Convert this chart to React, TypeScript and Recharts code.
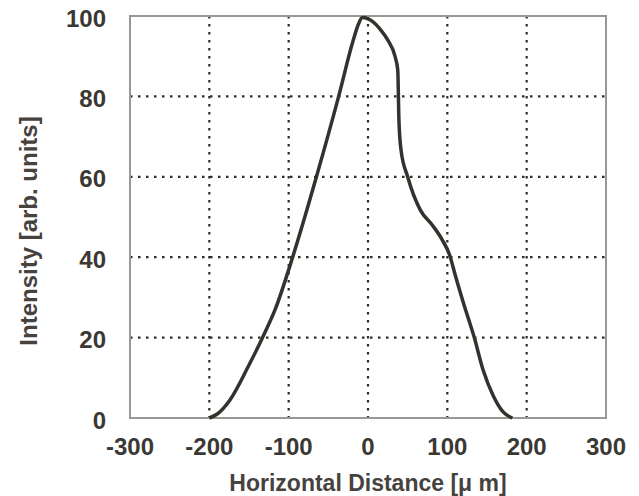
import { CartesianGrid, Label, Line, LineChart, ReferenceArea, XAxis, YAxis } from "recharts";

const distance = [
  -200, -190, -174, -151, -132, -117, -95, -65, -37, -19, -12, -7, 0, 6, 15, 25, 34, 37.5,
  39, 41.6, 50, 66, 81, 93, 103, 110, 120, 134, 145, 158, 170, 182
];
const intensity = [
  0, 1, 4.5, 12.8, 20.4, 27, 40, 60, 80, 93.7, 98, 99.6, 99.3, 98.6, 96.8, 94, 90, 86.6,
  74, 66.7, 60, 51.7, 48, 44.5, 40.5, 35.5, 28.8, 20, 12, 5.5, 1.6, 0
];
const xTicks = [-300, -200, -100, 0, 100, 200, 300];
const yTicks = [0, 20, 40, 60, 80, 100];
const xGrid = [-200, -100, 0, 100, 200];
const yGrid = [20, 40, 60, 80];

const data = distance.map((x, i) => ({ x, y: intensity[i] }));

const FONT = "'Liberation Sans', Arial, sans-serif";
const TICK = { fill: "#3b3833", fontSize: 24, fontWeight: "bold", fontFamily: FONT };

const YTitle = () => (
  <text
    x={28}
    y={231}
    transform="rotate(-90 28 231)"
    textAnchor="middle"
    dominantBaseline="central"
    fill="#46433f"
    fontSize={24}
    fontWeight="bold"
    fontFamily={FONT}
  >
    Intensity [arb. units]
  </text>
);

export default function App() {
  return (
    <div style={{ position: "absolute", left: 0, top: 0, background: "#fff" }}>
      <LineChart width={639} height={496} data={data} margin={{ top: 16, right: 33, left: 0, bottom: 0 }}>
        <CartesianGrid
          horizontalValues={yGrid}
          verticalValues={xGrid}
          stroke="#2f2c28"
          strokeWidth={2.2}
          strokeDasharray="2.5 5.5"
        />
        <XAxis
          dataKey="x"
          type="number"
          domain={[-300, 300]}
          ticks={xTicks}
          height={78}
          axisLine={false}
          tickLine={false}
          tickSize={0}
          tickMargin={20}
          tick={TICK}
        >
          <Label
            value="Horizontal Distance [μ m]"
            position="insideBottom"
            offset={5}
            fill="#46433f"
            fontSize={23}
            fontWeight="bold"
            fontFamily={FONT}
          />
        </XAxis>
        <YAxis
          type="number"
          domain={[0, 100]}
          ticks={yTicks}
          width={130}
          axisLine={false}
          tickLine={false}
          tickSize={0}
          tickMargin={24}
          tick={{ ...TICK, dy: 2 }}
        >
          <Label content={YTitle} />
        </YAxis>
        <ReferenceArea x1={-300} x2={300} y1={0} y2={100} fill="none" stroke="#9a9893" strokeWidth={2} />
        <Line
          type="monotone"
          dataKey="y"
          stroke="#35322d"
          strokeWidth={3.5}
          dot={false}
          isAnimationActive={false}
        />
      </LineChart>
    </div>
  );
}
